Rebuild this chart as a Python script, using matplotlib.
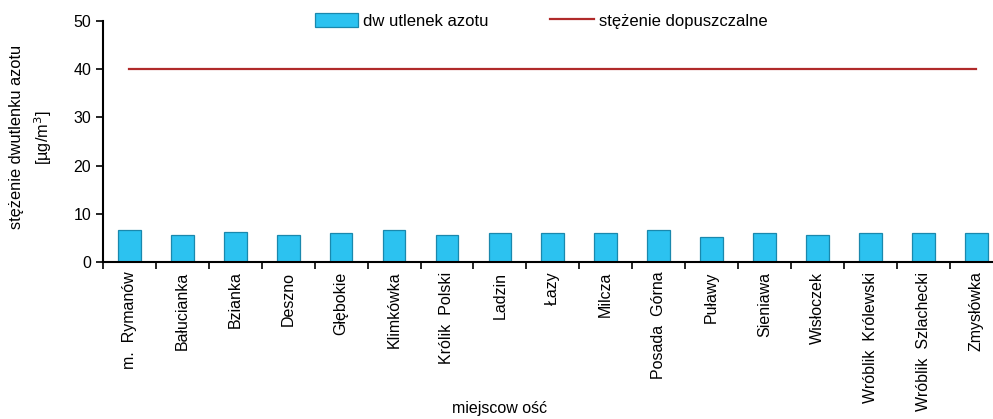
import matplotlib.pyplot as plt
import numpy as np
from matplotlib.ticker import FixedLocator

plt.rcParams['font.family'] = ['Liberation Sans', 'DejaVu Sans']

# data
miejscowosci = ['m.  Rymanów', 'Bałucianka', 'Bzianka', 'Deszno', 'Głębokie',
                'Klimkówka', 'Królik  Polski', 'Ladzin', 'Łazy', 'Milcza',
                'Posada  Górna', 'Puławy', 'Sieniawa', 'Wisłoczek',
                'Wróblik  Królewski', 'Wróblik  Szlachecki', 'Zmysłówka']
no2 = [6.6, 5.6, 6.2, 5.6, 5.9, 6.6, 5.6, 5.9, 5.9, 5.9,
       6.6, 5.2, 5.9, 5.6, 5.9, 5.9, 5.9]
dopuszczalne = [40] * len(miejscowosci)

x = np.arange(len(miejscowosci))

fig = plt.figure(figsize=(9.93, 4.19), dpi=100)
ax = fig.add_axes([0.1037, 0.375, 0.906, 0.575])

bars = ax.bar(x, no2, width=0.43, color='#2cc2f0', edgecolor='#1a88ad',
              linewidth=0.9, label='dw utlenek azotu', zorder=2)
line, = ax.plot(x, dopuszczalne, color='#b02a2a', linewidth=1.6,
                label='stężenie dopuszczalne', zorder=3)

ax.set_xlim(-0.5, len(miejscowosci) - 0.5)
ax.set_ylim(0, 50)
ax.set_yticks([0, 10, 20, 30, 40, 50])
ax.tick_params(axis='y', labelsize=11.5, length=5, width=1.2, direction='out')

ax.set_xticks(x)
ax.set_xticklabels(miejscowosci, rotation=90, fontsize=11.5)
ax.tick_params(axis='x', which='major', length=0, pad=7)
ax.xaxis.set_minor_locator(FixedLocator(np.arange(-0.5, len(miejscowosci), 1)))
ax.tick_params(axis='x', which='minor', length=5, width=1.2, direction='out')

for s in ['top', 'right']:
    ax.spines[s].set_visible(False)
ax.spines['left'].set_linewidth(1.5)
ax.spines['bottom'].set_linewidth(1.5)

fig.text(0.032, 0.672, 'stężenie dwutlenku azotu\n[µg/m$^3$]', rotation=90,
         ha='center', va='center', fontsize=11.8, linespacing=1.5)
fig.text(0.503, 0.025, 'miejscow ość', ha='center', va='center', fontsize=11.5)

fig.legend(handles=[bars, line], loc='center', bbox_to_anchor=(0.545, 0.95),
           ncol=2, frameon=False, fontsize=12, handlelength=2.6,
           handleheight=0.85, handletextpad=0.3, columnspacing=3.7)

fig.savefig('out.png', dpi=100)
